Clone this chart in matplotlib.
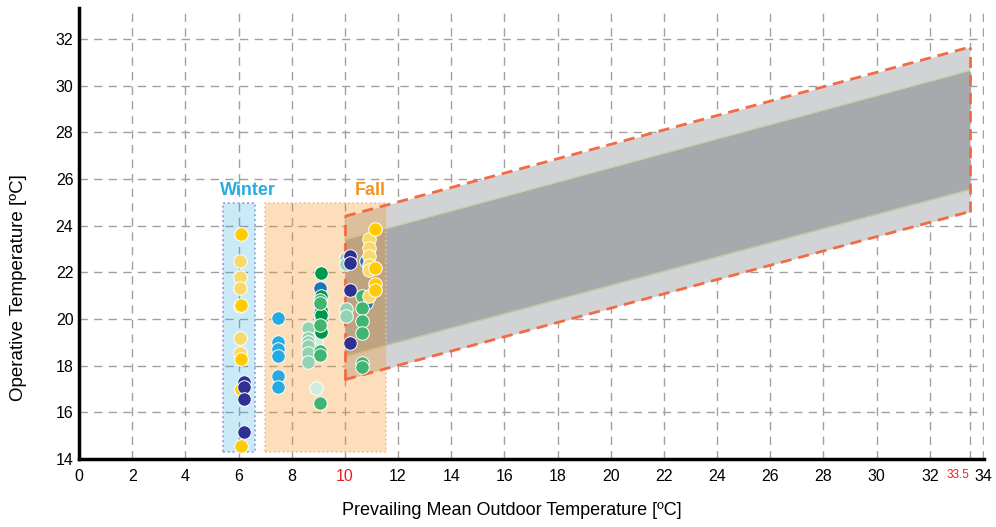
import matplotlib
matplotlib.use("Agg")
import matplotlib.pyplot as plt
from matplotlib.patches import Rectangle

plt.rcParams['font.family'] = ['Liberation Sans', 'DejaVu Sans']

# comfort band (x = prevailing mean outdoor temp)
band_x = [10, 33.5]
outer_lo = [17.4, 24.6]
outer_hi = [24.4, 31.65]
inner_lo = [18.4, 25.55]
inner_hi = [23.4, 30.65]

# measured points, grouped by marker colour
gold_x = [6.08, 6.08, 6.08, 6.08, 6.08, 11.13, 11.13, 11.13, 11.13]
gold_y = [23.63, 20.62, 18.28, 17.0, 14.55, 23.84, 22.2, 21.49, 21.23]

ltyellow_x = [6.05, 6.05, 6.05, 6.05, 6.05, 6.05, 10.91, 10.91, 10.91, 10.91, 10.91, 10.91]
ltyellow_y = [22.48, 21.79, 21.34, 20.55, 19.17, 18.53, 23.41, 23.05, 22.69, 22.33, 22.12, 20.98]

navy_x = [6.2, 6.2, 6.2, 6.2, 10.19, 10.19, 10.19, 10.19]
navy_y = [17.31, 17.07, 16.56, 15.14, 22.69, 22.41, 21.23, 18.96]

blue_x = [9.08, 9.08, 10.81, 10.81]
blue_y = [21.31, 20.32, 22.48, 20.7]

cyan_x = [7.47, 7.47, 7.47, 7.47, 7.47, 7.47]
cyan_y = [20.06, 19.0, 18.71, 18.4, 17.57, 17.07]

dkgreen_x = [9.12, 9.12, 9.12, 9.12, 9.12, 9.12]
dkgreen_y = [21.96, 20.98, 20.39, 19.99, 19.45, 20.15]

green_x = [9.08, 9.08, 9.08, 9.08, 9.08, 9.08, 10.63, 10.63, 10.63, 10.63, 10.63, 10.63]
green_y = [20.81, 20.67, 19.74, 18.64, 18.46, 16.41, 20.98, 20.49, 19.91, 19.39, 18.1, 17.96]

ltgreen_x = [8.62, 8.62, 8.62, 8.62, 8.62, 8.62, 10.06, 10.06, 10.06, 10.06]
ltgreen_y = [19.6, 19.17, 19.03, 18.84, 18.53, 18.17, 22.62, 22.37, 20.41, 20.13]

paleg_x = [8.93, 8.93]
paleg_y = [19.03, 17.06]

xticks = list(range(0, 35, 2))
yticks = list(range(14, 33, 2))

fig = plt.figure(figsize=(9.96, 5.27), dpi=100)
ax = fig.add_axes([0.0793, 0.129, 0.909, 0.856])
ax.set_xlim(0, 34.05)
ax.set_ylim(14, 33.33)

ax.set_axisbelow(True)
ax.grid(True, color='#a0a0a0', linestyle=(0, (6, 4.5)), linewidth=1.0)

# comfort zone bands
ax.fill_between(band_x, outer_lo, outer_hi, color='#d1d3d4', zorder=2, lw=0)
ax.fill_between(band_x, inner_lo, inner_hi, color='#a7a9ac', zorder=2.1, lw=0)
ax.plot(band_x, inner_lo, color='#bfd39a', lw=0.8, zorder=2.2)
ax.plot(band_x, inner_hi, color='#bfd39a', lw=0.8, zorder=2.2)

# season boxes
ax.add_patch(Rectangle((5.4, 14.28), 1.22, 10.67, facecolor='#29abe2', alpha=0.24,
                       edgecolor='none', zorder=3))
ax.add_patch(Rectangle((5.4, 14.28), 1.22, 10.67, facecolor='none', edgecolor='#9e9bd1',
                       linestyle=':', lw=1.3, zorder=3.1))
ax.add_patch(Rectangle((7.0, 14.28), 4.55, 10.69, facecolor='#f7941d', alpha=0.3,
                       edgecolor='none', zorder=3))
ax.add_patch(Rectangle((7.0, 14.28), 4.55, 10.69, facecolor='none', edgecolor='#f9b8a0',
                       linestyle=':', lw=1.2, zorder=3.1))

# outer band dashed outline
dash = dict(color='#f26b43', lw=2, linestyle=(0, (4, 2.5)), zorder=4)
ax.plot(band_x, outer_lo, **dash)
ax.plot(band_x, outer_hi, **dash)
ax.plot([band_x[0], band_x[0]], [outer_lo[0], outer_hi[0]], **dash)
ax.plot([band_x[1], band_x[1]], [outer_lo[1], outer_hi[1]], **dash)

ax.text(6.35, 25.5, 'Winter', color='#29abe2', fontsize=13, fontweight='bold',
        ha='center', va='center')
ax.text(10.95, 25.5, 'Fall', color='#f7941d', fontsize=13, fontweight='bold',
        ha='center', va='center')

pts = [
    (paleg_x, paleg_y, '#d0ecdc'),
    (ltgreen_x, ltgreen_y, '#93d3b1'),
    (cyan_x, cyan_y, '#27aae1'),
    (blue_x, blue_y, '#1c75bc'),
    (dkgreen_x, dkgreen_y, '#00964b'),
    (green_x, green_y, '#3fb56f'),
    (ltyellow_x, ltyellow_y, '#f8da6b'),
    (gold_x, gold_y, '#ffcb05'),
    (navy_x, navy_y, '#2e3192'),
]
for px, py, c in pts:
    ax.scatter(px, py, s=95, color=c, edgecolors='white', linewidths=0.7, zorder=5)

for s in ['top', 'right']:
    ax.spines[s].set_visible(False)
for s in ['left', 'bottom']:
    ax.spines[s].set_linewidth(2.5)
    ax.spines[s].set_zorder(6)

ax.set_xticks(xticks + [33.5])
ax.set_xticklabels([str(t) for t in xticks] + ['33.5'])
ax.set_yticks(yticks)
ax.tick_params(axis='both', labelsize=11.5, length=0, color='#555555')
ax.tick_params(axis='x', pad=7)
ax.tick_params(axis='y', pad=4)
for lab in ax.get_xticklabels():
    if lab.get_text() == '10':
        lab.set_color('#ed1c24')
    if lab.get_text() == '33.5':
        lab.set_color('#ed1c24')
        lab.set_fontsize(8.5)
        lab.set_horizontalalignment('right')

ax.set_xlabel('Prevailing Mean Outdoor Temperature [ºC]', fontsize=13)
ax.set_ylabel('Operative Temperature [ºC]', fontsize=13.5)
ax.xaxis.set_label_coords(0.478, -0.095)
ax.yaxis.set_label_coords(-0.057, 0.38)

fig.savefig('out.png', dpi=100)
